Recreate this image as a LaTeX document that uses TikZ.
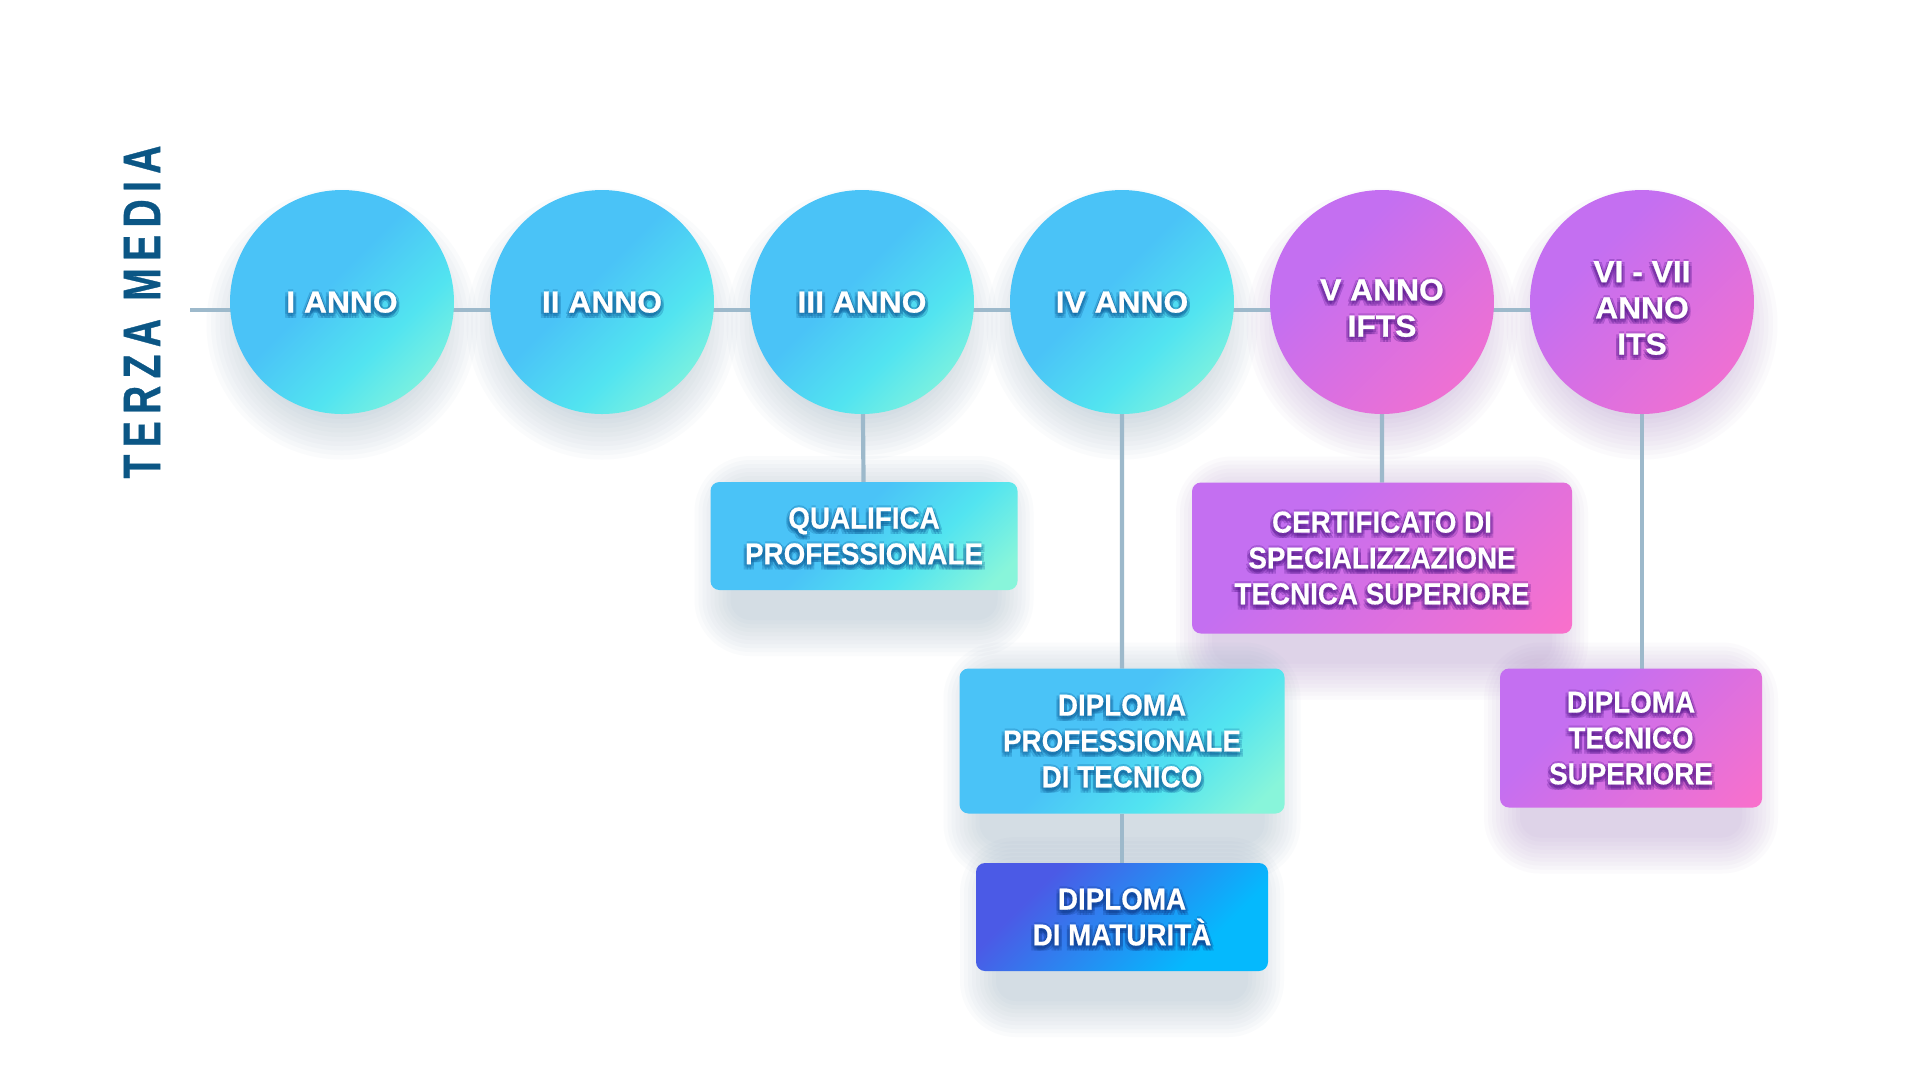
\documentclass[tikz,border=0pt]{standalone}
\usepackage{fontspec}
\setmainfont{Liberation Sans}
\newfontfamily\circfont{Liberation Sans Bold}[FakeStretch=1.04,FakeBold=0.8]
\newfontfamily\boxfont{Liberation Sans Bold}[FakeStretch=0.92,FakeBold=0.5]
\newfontfamily\titlefont{Liberation Sans Bold}[FakeStretch=0.74,FakeBold=0.6,LetterSpace=14]
\usetikzlibrary{positioning,calc}

\definecolor{cyA}{HTML}{4AC3F7}
\definecolor{cyB}{HTML}{52E4F0}
\definecolor{cyC}{HTML}{88F5DA}
\definecolor{puA}{HTML}{C46FF1}
\definecolor{puC}{HTML}{F970CB}
\definecolor{blA}{HTML}{4B5AE6}
\definecolor{blC}{HTML}{05B9FD}
\definecolor{linegrey}{HTML}{9DB9CB}
\definecolor{titleblue}{HTML}{0B5685}
\definecolor{shadowgrey}{HTML}{7F9CB4}
\definecolor{shadowpurple}{HTML}{A07ABF}
\definecolor{halocyan}{HTML}{0E5F9A}
\definecolor{halopurple}{HTML}{55198C}
\definecolor{haloblue}{HTML}{0F3C8C}

\pgfdeclarehorizontalshading{cyanfade}{100bp}{color(0bp)=(cyA); color(45bp)=(cyA); color(63bp)=(cyB); color(80bp)=(cyC); color(100bp)=(cyC)}
\pgfdeclarehorizontalshading{purplefade}{100bp}{color(0bp)=(puA); color(35bp)=(puA); color(85bp)=(puC); color(100bp)=(puC)}
\pgfdeclarehorizontalshading{bluefade}{100bp}{color(0bp)=(blA); color(30bp)=(blA); color(70bp)=(blC); color(100bp)=(blC)}

\pgfdeclarelayer{paper}
\pgfdeclarelayer{shadowlayer}
\pgfdeclarelayer{linelayer}
\pgfsetlayers{paper,shadowlayer,linelayer,main}

\tikzset{
  year/.style={circle, minimum size=22.4mm, inner sep=0pt, outer sep=0pt, shade, shading angle=-45},
  award/.style={rectangle, rounded corners=0.9mm, inner sep=0pt, outer sep=0pt, shade, shading angle=-45},
  circtext/.style={text=white, align=center, inner sep=0pt, font=\circfont\fontsize{8.7}{10.3}\selectfont},
  boxtext/.style={text=white, align=center, inner sep=0pt, font=\boxfont\fontsize{8.6}{10.2}\selectfont},
  link/.style={draw=linegrey, line width=0.42mm},
}

% white text with a dark halo under it
\newcommand{\glowlabel}[5]{%
  \foreach \dx/\dy in {-3/1,3/1,0/-2,0/5,-3/5,3/5,-1.5/3,1.5/3}
    \node[#1, text=#4, text opacity=0.24] at ([shift={(\dx,\dy)}]#3) {#5};
  \node[#1] (#2) at (#3) {#5};
}

\begin{document}
\begin{tikzpicture}[x=0.1mm, y=-0.1mm]
  \useasboundingbox (0,0) rectangle (1920,1080);
  \begin{pgfonlayer}{paper}
    \fill[white] (0,0) rectangle (1920,1080);
  \end{pgfonlayer}

  % title
  \node[rotate=90, text=titleblue, font=\titlefont\fontsize{15}{18}\selectfont] (terza) at (142,312) {TERZA MEDIA};

  % years
  \coordinate (start) at (190,310);
  \node[year, shading=cyanfade] (c1) at (342,302) {};
  \node[year, shading=cyanfade, right=3.6mm of c1] (c2) {};
  \node[year, shading=cyanfade, right=3.6mm of c2] (c3) {};
  \node[year, shading=cyanfade, right=3.6mm of c3] (c4) {};
  \node[year, shading=purplefade, right=3.6mm of c4] (c5) {};
  \node[year, shading=purplefade, right=3.6mm of c5] (c6) {};
  \coordinate (c5m) at ([yshift=-0.6mm]c5.center);
  \coordinate (c6m) at ([yshift=-0.6mm]c6.center);

  % certificates
  \node[award, shading=cyanfade, minimum width=30.7mm, minimum height=10.8mm] (qual) at (864,536) {};
  \node[award, shading=purplefade, minimum width=38mm, minimum height=15.1mm] (cert) at (1382,558) {};
  \node[award, shading=cyanfade, minimum width=32.5mm, minimum height=14.5mm] (dpt) at (1122,741) {};
  \node[award, shading=bluefade, minimum width=29.2mm, minimum height=10.8mm] (mat) at (1122,917) {};
  \node[award, shading=purplefade, minimum width=26.2mm, minimum height=13.9mm] (dts) at (1631,738) {};

  % labels
  \glowlabel{circtext}{c1t}{c1}{halocyan}{I ANNO}
  \glowlabel{circtext}{c2t}{c2}{halocyan}{II ANNO}
  \glowlabel{circtext}{c3t}{c3}{halocyan}{III ANNO}
  \glowlabel{circtext}{c4t}{c4}{halocyan}{IV ANNO}
  \glowlabel{circtext}{c5t}{c5m}{halopurple}{V ANNO\\IFTS}
  \glowlabel{circtext}{c6t}{c6m}{halopurple}{VI - VII\\ANNO\\ITS}
  \glowlabel{boxtext}{qualt}{qual}{halocyan}{QUALIFICA\\PROFESSIONALE}
  \glowlabel{boxtext}{certt}{cert}{halopurple}{CERTIFICATO DI\\SPECIALIZZAZIONE\\TECNICA SUPERIORE}
  \glowlabel{boxtext}{dptt}{dpt}{halocyan}{DIPLOMA\\PROFESSIONALE\\DI TECNICO}
  \glowlabel{boxtext}{matt}{mat}{haloblue}{DIPLOMA\\DI MATURITÀ}
  \glowlabel{boxtext}{dtst}{dts}{halopurple}{DIPLOMA\\TECNICO\\SUPERIORE}

  % soft shadows
  \begin{pgfonlayer}{shadowlayer}
    \foreach \i/\sc in {1/shadowgrey,2/shadowgrey,3/shadowgrey,4/shadowgrey,5/shadowpurple,6/shadowpurple}
      \foreach \k in {0,...,9}
        \fill[\sc, opacity=0.035] ([yshift=-2.2mm]c\i.center) circle[radius=9.5mm+\k*0.45mm];
    \foreach \b/\sc in {qual/shadowgrey,cert/shadowpurple,dpt/shadowgrey,mat/shadowgrey,dts/shadowpurple}
      \foreach \k in {0,...,9}
        \fill[\sc, opacity=0.035, rounded corners=2mm+\k*0.4mm] ([shift={(20-4*\k,10-4*\k)}]\b.north west) rectangle ([shift={(4*\k-20,4*\k+30)}]\b.south east);
  \end{pgfonlayer}

  % connectors
  \begin{pgfonlayer}{linelayer}
    \draw[link] (start) -- (start -| c6);
    \draw[link] (c3) -- (qual);
    \draw[link] (c4) -- (dpt);
    \draw[link] (dpt) -- (mat);
    \draw[link] (c5) -- (cert);
    \draw[link] (c6) -- (c6 |- dts.north);
  \end{pgfonlayer}
\end{tikzpicture}
\end{document}
